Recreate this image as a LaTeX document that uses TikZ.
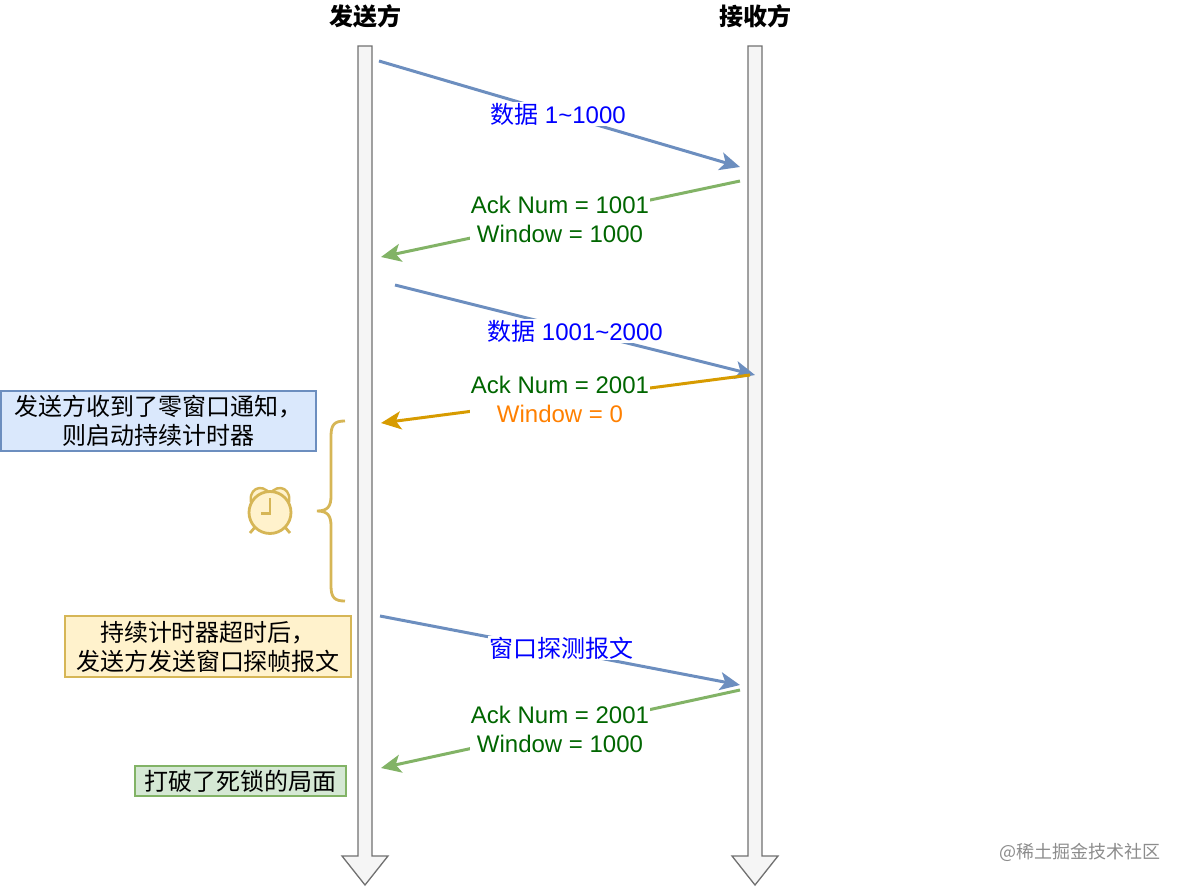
\documentclass[tikz,border=0pt]{standalone}
\usepackage{fontspec}
\setmainfont{Liberation Sans}
\newfontfamily\cjk{Noto Sans CJK SC}
\usetikzlibrary{arrows.meta}
\definecolor{bluel}{HTML}{6C8EBF}
\definecolor{greenl}{HTML}{82B366}
\definecolor{orangel}{HTML}{D79B00}
\definecolor{yellowl}{HTML}{D6B656}
\definecolor{bluef}{HTML}{DAE8FC}
\definecolor{yellowf}{HTML}{FFF2CC}
\definecolor{greenf}{HTML}{D5E8D4}
\definecolor{darkg}{HTML}{006600}
\definecolor{lifef}{HTML}{F5F5F5}
\definecolor{lifel}{HTML}{707070}
\definecolor{orangetx}{HTML}{FF8000}
\tikzset{
 every node/.style={font=\fontsize{24}{29}\selectfont,inner sep=0pt,align=center},
 life/.style={draw=lifel,fill=lifef,line width=1.3pt},
 msg/.style={line width=3pt,-{Stealth[length=20pt,width=18pt,inset=5pt]}},
 lab/.style={fill=white,inner xsep=1pt,inner ysep=1pt},
 note/.style={draw,line width=1.1pt,text=black,font=\fontsize{24}{29}\selectfont\cjk},
 head/.style={font=\fontsize{24}{29}\selectfont\cjk\bfseries}
}
\begin{document}
\begin{tikzpicture}[x=1pt,y=-1pt]
\useasboundingbox (0,0) rectangle (1184,887);
\draw[life] (358,46) -- (372,46) -- (372,856) -- (388,856) -- (365,885) -- (342,856) -- (358,856) -- cycle;
\draw[life] (748,46) -- (762,46) -- (762,856) -- (778,856) -- (755,885) -- (732,856) -- (748,856) -- cycle;
\node[head] (h1) at (365,16) {发送方};
\node[head] (h2) at (755,16) {接收方};

\coordinate (a1) at (379,61); \coordinate (a2) at (740,167);
\coordinate (b1) at (740,181); \coordinate (b2) at (381,257);
\coordinate (c1) at (395,285); \coordinate (c2) at (755,375);
\coordinate (d1) at (750,375); \coordinate (d2) at (381,423);
\coordinate (e1) at (380,616); \coordinate (e2) at (740,685);
\coordinate (f1) at (740,690); \coordinate (f2) at (381,768);

\draw[msg,bluel] (a1) -- (a2);
\draw[msg,greenl] (b1) -- (b2);
\draw[msg,bluel] (c1) -- (c2);
\draw[msg,orangel] (d1) -- (d2);
\draw[msg,bluel] (e1) -- (e2);
\draw[msg,greenl] (f1) -- (f2);

\node[lab,text=blue] (la) at (558,114) {{\cjk 数据} 1\textasciitilde 1000};
\node[lab,text=darkg] (lb) at (560,219) {Ack Num = 1001\\Window = 1000};
\node[lab,text=blue] (lc) at (575,331) {{\cjk 数据} 1001\textasciitilde 2000};
\node[lab] (ld) at (560,399) {\textcolor{darkg}{Ack Num = 2001}\\\textcolor{orangetx}{Window = 0}};
\node[lab,text=blue,font=\fontsize{24}{29}\selectfont\cjk] (le) at (561,648) {窗口探测报文};
\node[lab,text=darkg] (lf) at (560,729) {Ack Num = 2001\\Window = 1000};

\node[note,draw=bluel,fill=bluef,minimum width=315pt,minimum height=60pt] (n1) at (158.5,421) {发送方收到了零窗口通知，\\则启动持续计时器};
\node[note,draw=yellowl,fill=yellowf,minimum width=286pt,minimum height=61pt] (n2) at (208,646.5) {持续计时器超时后，\\发送方发送窗口探帧报文};
\node[note,draw=greenl,fill=greenf,minimum width=211pt,minimum height=30pt] (n3) at (240.5,781) {打破了死锁的局面};

\draw[yellowl,line width=2.8pt] (345,421) .. controls (335,421) and (331,424) .. (331,436) -- (331,496) .. controls (331,506) and (328,511) .. (317,511) .. controls (328,511) and (331,516) .. (331,526) -- (331,586) .. controls (331,598) and (335,601) .. (345,601);

% clock
\draw[yellowl,line width=2.8pt] (256,526) -- (250,533) (284,526) -- (290,533);
\draw[yellowl,fill=yellowf,line width=2.4pt] (252,506) .. controls (246,489) and (262,482) .. (270,494) -- cycle;
\draw[yellowl,fill=yellowf,line width=2.4pt] (288,506) .. controls (294,489) and (278,482) .. (270,494) -- cycle;
\draw[yellowl,fill=yellowf,line width=2.8pt] (270,512.5) circle (21);
\draw[yellowl,line width=2.6pt] (270,498) -- (270,513.5) -- (261,513.5);

\node[text=black!45,font=\fontsize{18}{22}\selectfont\cjk] (wm) at (1080,852) {@稀土掘金技术社区};
\end{tikzpicture}
\end{document}
